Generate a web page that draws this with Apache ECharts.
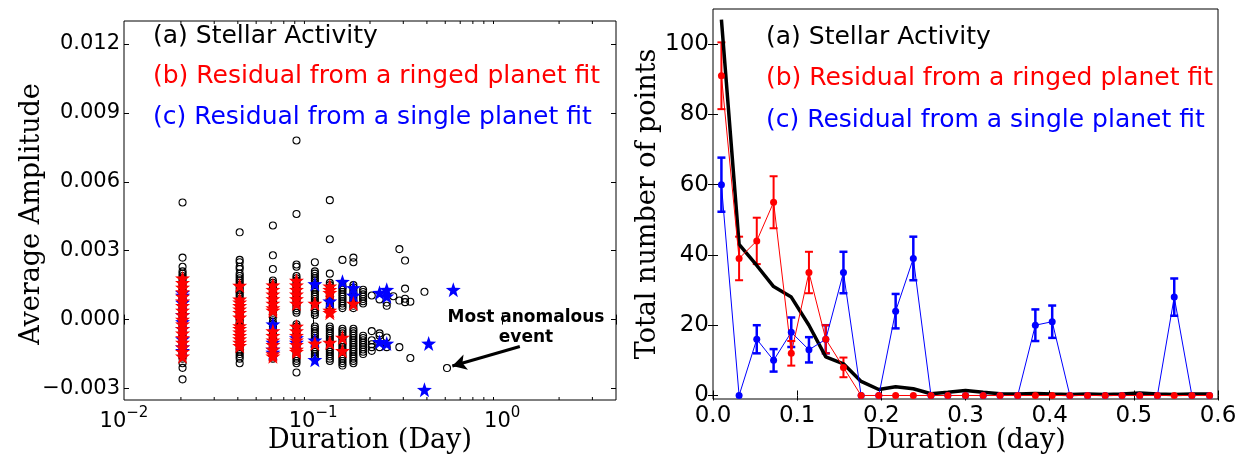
<!DOCTYPE html>
<html>
<head>
<meta charset="utf-8">
<script src="https://cdn.jsdelivr.net/npm/echarts@6/dist/echarts.min.js"></script>
<style>
  html, body { margin: 0; padding: 0; background: #fff; }
  #chart { width: 1250px; height: 462px; }
</style>
</head>
<body>
<div id="chart"></div>
<script>
// ---- left panel: amplitude vs duration (one column per duration) ----
const activityDur = [0.0204, 0.0409, 0.0613, 0.0817, 0.1022, 0.1226, 0.1430, 0.1634, 0.1839,
  0.2043, 0.2247, 0.2452, 0.2656, 0.2860, 0.3065, 0.3269, 0.3882, 0.5108];
const activityAmp = [
  [0.0051, 0.0027, 0.0023, 0.0021, 0.0020, 0.0019, 0.0018, 0.0017, 0.0016, 0.0015, 0.0014, 0.0013, 0.0012, 0.0011, 0.0010, 0.0009, 0.0008, 0.0007, 0.0006, 0.0005, 0.0004, 0.0003, 0.0002, 0.0001, 0.0000, -0.0001, -0.0002, -0.0003, -0.0004, -0.0005, -0.0006, -0.0007, -0.0008, -0.0009, -0.0010, -0.0011, -0.0012, -0.0013, -0.0014, -0.0015, -0.0016, -0.0017, -0.0019, -0.0021, -0.0026],
  [0.0038, 0.0026, 0.0025, 0.0023, 0.0022, 0.0020, 0.0019, 0.0018, 0.0017, 0.0016, 0.0015, 0.0014, 0.0013, 0.0012, 0.0011, 0.0010, 0.0009, 0.0008, 0.0007, 0.0006, 0.0005, 0.0004, 0.0003, 0.0002, 0.0001, 0.0000, -0.0001, -0.0002, -0.0003, -0.0004, -0.0005, -0.0006, -0.0007, -0.0008, -0.0009, -0.0010, -0.0011, -0.0012, -0.0013, -0.0014, -0.0015, -0.0016, -0.0017, -0.0019],
  [0.0041, 0.0028, 0.0022, 0.0017, 0.0016, 0.0015, 0.0014, 0.0013, 0.0012, 0.0011, 0.0010, 0.0009, 0.0008, 0.0007, 0.0006, 0.0005, 0.0004, 0.0003, 0.0002, 0.0001, -0.0001, -0.0002, -0.0003, -0.0004, -0.0005, -0.0006, -0.0007, -0.0008, -0.0009, -0.0010, -0.0011, -0.0012, -0.0013, -0.0014, -0.0015, -0.0016, -0.0017],
  [0.0078, 0.0046, 0.0024, 0.0023, 0.0019, 0.0018, 0.0017, 0.0016, 0.0015, 0.0014, 0.0013, 0.0012, 0.0011, 0.0010, 0.0009, 0.0008, 0.0007, 0.0006, 0.0005, 0.0004, 0.0003, -0.0002, -0.0003, -0.0004, -0.0005, -0.0006, -0.0007, -0.0008, -0.0009, -0.0010, -0.0011, -0.0012, -0.0013, -0.0014, -0.0015, -0.0016, -0.0017, -0.0018, -0.0019, -0.0023],
  [0.0025, 0.0021, 0.0020, 0.0019, 0.0018, 0.0017, 0.0016, 0.0015, 0.0014, 0.0013, 0.0012, 0.0011, 0.0010, 0.0009, 0.0008, 0.0007, 0.0006, 0.0005, 0.0004, 0.0003, 0.0002, -0.0003, -0.0004, -0.0005, -0.0006, -0.0007, -0.0008, -0.0009, -0.0010, -0.0011, -0.0012, -0.0013, -0.0014, -0.0015, -0.0016, -0.0017],
  [0.0052, 0.0035, 0.0020, 0.0016, 0.0015, 0.0014, 0.0013, 0.0012, 0.0011, 0.0010, 0.0009, 0.0008, 0.0007, 0.0006, 0.0005, -0.0003, -0.0004, -0.0005, -0.0006, -0.0007, -0.0008, -0.0009, -0.0010, -0.0011, -0.0012, -0.0013, -0.0014, -0.0015, -0.0016, -0.0017, -0.0018],
  [0.0026, 0.0015, 0.0014, 0.0013, 0.0012, 0.0011, 0.0010, 0.0009, 0.0008, 0.0007, 0.0006, 0.0005, -0.0004, -0.0005, -0.0006, -0.0007, -0.0008, -0.0009, -0.0010, -0.0011, -0.0012, -0.0013, -0.0014, -0.0015, -0.0016, -0.0017, -0.0018, -0.0019, -0.0020],
  [0.0027, 0.0025, 0.0015, 0.0014, 0.0013, 0.0012, 0.0011, 0.0010, 0.0009, 0.0008, 0.0007, 0.0006, 0.0005, -0.0004, -0.0005, -0.0006, -0.0007, -0.0008, -0.0009, -0.0010, -0.0011, -0.0012, -0.0013, -0.0014, -0.0015, -0.0016, -0.0017, -0.0018, -0.0019],
  [0.0013, 0.0012, 0.0011, 0.0010, 0.0009, 0.0008, 0.0007, -0.0007, -0.0008, -0.0009, -0.0010, -0.0011, -0.0012, -0.0013, -0.0014, -0.0015],
  [0.00105, -0.0005, -0.0009, -0.00107, -0.0012, -0.00136],
  [0.00088, -0.0006, -0.0007, -0.0012],
  [0.00074, 0.0006, -0.00078, -0.0012],
  [0.00102],
  [0.00307, 0.00083, -0.0012],
  [0.00257, 0.00135, 0.00091, 0.00076],
  [0.00078, -0.00167],
  [0.00121],
  [-0.00211]
];
const ringDur = [0.0204, 0.0409, 0.0613, 0.0817, 0.1022, 0.1226, 0.1430, 0.1634];
const ringAmp = [
  [0.0018, 0.0016, 0.0014, 0.0012, 0.0010, 0.0008, 0.0006, 0.0004, 0.0002, 0.0000, -0.0002, -0.0004, -0.0006, -0.0008, -0.0010, -0.0012, -0.0014, -0.0016],
  [0.00148, 0.00088, 0.00075, 0.0006, 0.00045, 0.0003, 0.0001, -0.00028, -0.0004, -0.00055, -0.0007, -0.00085, -0.0010, -0.00114],
  [0.0015, 0.0013, 0.0011, 0.0009, 0.0007, 0.0005, 0.0004, -0.0005, -0.0007, -0.0009, -0.0011, -0.0013, -0.0015, -0.0016],
  [0.0017, 0.0015, 0.0013, 0.0011, 0.0009, 0.0007, -0.0003, -0.0005, -0.0007, -0.0009, -0.0011, -0.0013, -0.0014],
  [0.0007, -0.00104],
  [0.00145, 0.0013, 0.00117, 0.0004, 0.0003, -0.0010],
  [-0.00078, -0.00136],
  [0.0007]
];
const singleDur = [0.0204, 0.0613, 0.0817, 0.1022, 0.1226, 0.1430, 0.1634, 0.2247, 0.2452, 0.3882, 0.4086, 0.5516];
const singleAmp = [
  [0.00117, 0.00105, 0.00074, 0.0002, -0.0001, -0.0004, -0.00085, -0.0012, -0.00136],
  [-0.0002, -0.0010, -0.0013, -0.00143],
  [-0.0008, -0.0010],
  [0.00155, -0.0009, -0.00175],
  [0.0008],
  [0.00165],
  [0.00138, 0.00105],
  [0.00117, -0.00097],
  [0.0013, 0.00102, -0.00104],
  [-0.00305],
  [-0.00104],
  [0.0013]
];
const leftYTicks = [-0.003, 0, 0.003, 0.006, 0.009, 0.012];
const logMinorTicks = [0.02, 0.03, 0.04, 0.05, 0.06, 0.07, 0.08, 0.09, 0.2, 0.3, 0.4, 0.5, 0.6, 0.7, 0.8, 0.9, 2, 3];
const arrowFrom = [1.24, -0.00117];
const arrowTo = [0.545, -0.00202];

// ---- right panel: histogram of durations ----
const binCenters = [0.010, 0.031, 0.052, 0.072, 0.093, 0.114, 0.134, 0.155, 0.176, 0.197, 0.217, 0.238,
  0.259, 0.279, 0.300, 0.321, 0.341, 0.362, 0.383, 0.403, 0.424, 0.445, 0.466, 0.486, 0.507, 0.528, 0.548, 0.569, 0.590];
const activityCount = [107, 43, 37, 31, 28, 20, 11, 9, 4, 1.7, 2.5, 1.9, 0.5, 0.9, 1.4, 0.9, 0.5, 0.4, 0.6, 0.4,
  0.3, 0.4, 0.3, 0.4, 0.7, 0.4, 0.3, 0.4, 0.4];
const ringCount = [91, 39, 44, 55, 12, 35, 16, 8, 0, 0, 0, 0, 0, 0, 0, 0, 0, 0, 0, 0, 0, 0, 0, 0, 0, 0, 0, 0, 0];
const ringErr = [9.5, 6.2, 6.6, 7.4, 3.5, 5.9, 4.0, 2.8, 0, 0, 0, 0, 0, 0, 0, 0, 0, 0, 0, 0, 0, 0, 0, 0, 0, 0, 0, 0, 0];
const singleCount = [60, 0, 16, 10, 18, 13, 16, 35, 0, 0, 24, 39, 0, 0, 0, 0, 0, 0, 20, 21, 0, 0, 0, 0, 0, 0, 28, 0, 0];
const singleErr = [7.7, 0, 4.0, 3.2, 4.2, 3.6, 4.0, 5.9, 0, 0, 4.9, 6.2, 0, 0, 0, 0, 0, 0, 4.5, 4.6, 0, 0, 0, 0, 0, 0, 5.3, 0, 0];
const rightYTicks = [0, 20, 40, 60, 80, 100];

const LX = [0.01, 4], LY = [-0.0035, 0.013];
const RX = [0, 0.6], RY = [-1, 110];

const SANS = 'DejaVu Sans';
const STAR = 'path://M0,-10L2.35,-3.24L9.51,-3.09L3.8,1.24L5.88,8.09L0,4L-5.88,8.09L-3.8,1.24L-9.51,-3.09L-2.35,-3.24Z';

function columns(durs, amps) {
  const out = [];
  durs.forEach((d, i) => amps[i].forEach(a => out.push([d, a])));
  return out;
}
function zipXY(xs, ys, es) {
  return xs.map((x, i) => es ? [x, ys[i], es[i]] : [x, ys[i]]);
}
function minus(s) { return s.replace('-', '\u2212'); }

function errorBars(color, width) {
  return function (params, api) {
    const x = api.value(0), y = api.value(1), e = api.value(2);
    if (!e) return null;
    const t = api.coord([x, y + e]), b = api.coord([x, y - e]);
    const c = 4, st = { stroke: color, lineWidth: width };
    return {
      type: 'group',
      children: [
        { type: 'line', shape: { x1: t[0], y1: t[1], x2: b[0], y2: b[1] }, style: st },
        { type: 'line', shape: { x1: t[0] - c, y1: t[1], x2: t[0] + c, y2: t[1] }, style: st },
        { type: 'line', shape: { x1: b[0] - c, y1: b[1], x2: b[0] + c, y2: b[1] }, style: st }
      ]
    };
  };
}

const tick = { inside: true, length: 5, lineStyle: { color: '#000', width: 1 } };
const noLine = { show: false };
const noSplit = { show: false };

const chart = echarts.init(document.getElementById('chart'), null, { renderer: 'canvas' });
chart.setOption({
  animation: false,
  backgroundColor: '#fff',
  grid: [
    { left: 124, top: 21, width: 492, height: 379, show: true, borderColor: '#000', borderWidth: 1, backgroundColor: 'transparent' },
    { left: 713, top: 9, width: 505, height: 390, show: true, borderColor: '#000', borderWidth: 1, backgroundColor: 'transparent' }
  ],
  xAxis: [
    {
      type: 'log', gridIndex: 0, min: LX[0], max: LX[1], axisLine: noLine, splitLine: noSplit, axisTick: tick,
      axisLabel: {
        interval: 0, margin: 6, color: '#000', fontFamily: SANS,
        formatter: v => {
          const e = Math.round(Math.log10(v));
          if (Math.abs(v - Math.pow(10, e)) > 1e-9 * Math.pow(10, e)) return '';
          return '{b|10}{s|' + minus(String(e)) + '}';
        },
        rich: {
          b: { fontSize: 21, fontFamily: SANS, color: '#000', lineHeight: 32 },
          s: { fontSize: 15, fontFamily: SANS, color: '#000', verticalAlign: 'top' }
        }
      }
    },
    { type: 'log', gridIndex: 0, position: 'top', min: LX[0], max: LX[1], axisLine: noLine, splitLine: noSplit, axisTick: tick, axisLabel: { show: false } },
    {
      type: 'value', gridIndex: 1, min: RX[0], max: RX[1], interval: 0.1, axisLine: noLine, splitLine: noSplit, axisTick: tick,
      axisLabel: { margin: 6, color: '#000', fontSize: 23, fontFamily: SANS, formatter: v => v.toFixed(1) }
    },
    { type: 'value', gridIndex: 1, position: 'top', min: RX[0], max: RX[1], interval: 0.1, axisLine: noLine, splitLine: noSplit, axisTick: tick, axisLabel: { show: false } }
  ],
  yAxis: [
    {
      type: 'value', gridIndex: 0, min: LY[0], max: LY[1], axisLine: noLine, splitLine: noSplit,
      axisTick: Object.assign({ customValues: leftYTicks }, tick),
      axisLabel: { customValues: leftYTicks, margin: 4, color: '#000', fontSize: 21, fontFamily: SANS, formatter: v => minus(v.toFixed(3)) }
    },
    {
      type: 'value', gridIndex: 0, position: 'right', min: LY[0], max: LY[1], axisLine: noLine, splitLine: noSplit,
      axisTick: Object.assign({ customValues: leftYTicks }, tick), axisLabel: { show: false, customValues: leftYTicks }
    },
    {
      type: 'value', gridIndex: 1, min: RY[0], max: RY[1], axisLine: noLine, splitLine: noSplit,
      axisTick: Object.assign({ customValues: rightYTicks }, tick),
      axisLabel: { customValues: rightYTicks, margin: 4, color: '#000', fontSize: 23, fontFamily: SANS }
    },
    {
      type: 'value', gridIndex: 1, position: 'right', min: RY[0], max: RY[1], axisLine: noLine, splitLine: noSplit,
      axisTick: Object.assign({ customValues: rightYTicks }, tick), axisLabel: { show: false, customValues: rightYTicks }
    }
  ],
  series: [
    // log-axis minor ticks (2..9 x 10^k), bottom and top
    {
      type: 'custom', xAxisIndex: 0, yAxisIndex: 0, silent: true,
      data: logMinorTicks.map(v => [v, LY[0]]),
      encode: { x: 0, y: 1 },
      renderItem: (params, api) => {
        const v = api.value(0);
        const b = api.coord([v, LY[0]]), t = api.coord([v, LY[1]]);
        const st = { stroke: '#000', lineWidth: 1 };
        return {
          type: 'group', children: [
            { type: 'line', shape: { x1: b[0], y1: b[1], x2: b[0], y2: b[1] - 3 }, style: st },
            { type: 'line', shape: { x1: t[0], y1: t[1], x2: t[0], y2: t[1] + 3 }, style: st }
          ]
        };
      }
    },
    {
      name: 'Stellar Activity', type: 'scatter', xAxisIndex: 0, yAxisIndex: 0,
      data: columns(activityDur, activityAmp),
      symbol: 'circle', symbolSize: 7,
      itemStyle: { color: 'rgba(0,0,0,0)', borderColor: '#000', borderWidth: 1.1, opacity: 1 },
      markLine: {
        silent: true, symbol: ['none', 'arrow'], symbolSize: [12, 14],
        lineStyle: { color: '#000', width: 3, type: 'solid', opacity: 1 },
        label: { show: false },
        data: [[{ coord: arrowFrom }, { coord: arrowTo }]]
      }
    },
    {
      name: 'Single planet residual', type: 'scatter', xAxisIndex: 0, yAxisIndex: 0,
      data: columns(singleDur, singleAmp),
      symbol: STAR, symbolSize: 15,
      itemStyle: { color: '#0000ff', opacity: 1 }
    },
    {
      name: 'Ringed planet residual', type: 'scatter', xAxisIndex: 0, yAxisIndex: 0,
      data: columns(ringDur, ringAmp),
      symbol: STAR, symbolSize: 15,
      itemStyle: { color: '#ff0000', opacity: 1 }
    },
    // right panel
    {
      type: 'line', xAxisIndex: 2, yAxisIndex: 2, data: zipXY(binCenters, activityCount),
      showSymbol: false, lineStyle: { color: '#000', width: 3.5 }, itemStyle: { color: '#000' }
    },
    {
      type: 'line', xAxisIndex: 2, yAxisIndex: 2, data: zipXY(binCenters, singleCount),
      symbol: 'circle', symbolSize: 7, lineStyle: { color: '#0000ff', width: 1 }, itemStyle: { color: '#0000ff' }
    },
    {
      type: 'custom', xAxisIndex: 2, yAxisIndex: 2, data: zipXY(binCenters, singleCount, singleErr),
      encode: { x: 0, y: 1 }, renderItem: errorBars('#0000ff', 2.5)
    },
    {
      type: 'line', xAxisIndex: 2, yAxisIndex: 2, data: zipXY(binCenters, ringCount),
      symbol: 'circle', symbolSize: 7, lineStyle: { color: '#ff0000', width: 1 }, itemStyle: { color: '#ff0000' }
    },
    {
      type: 'custom', xAxisIndex: 2, yAxisIndex: 2, data: zipXY(binCenters, ringCount, ringErr),
      encode: { x: 0, y: 1 }, renderItem: errorBars('#ff0000', 2)
    }
  ],
  graphic: [
    { type: 'text', x: 153, y: 36, style: { text: '(a) Stellar Activity', fill: '#000', font: '25px "DejaVu Sans"', verticalAlign: 'middle' } },
    { type: 'text', x: 153, y: 76, style: { text: '(b) Residual from a ringed planet fit', fill: '#ff0000', font: '25px "DejaVu Sans"', verticalAlign: 'middle' } },
    { type: 'text', x: 153, y: 117, style: { text: '(c) Residual from a single planet fit', fill: '#0000ff', font: '25px "DejaVu Sans"', verticalAlign: 'middle' } },
    { type: 'text', x: 766, y: 37, style: { text: '(a) Stellar Activity', fill: '#000', font: '25px "DejaVu Sans"', verticalAlign: 'middle' } },
    { type: 'text', x: 766, y: 78, style: { text: '(b) Residual from a ringed planet fit', fill: '#ff0000', font: '25px "DejaVu Sans"', verticalAlign: 'middle' } },
    { type: 'text', x: 766, y: 120, style: { text: '(c) Residual from a single planet fit', fill: '#0000ff', font: '25px "DejaVu Sans"', verticalAlign: 'middle' } },
    { type: 'text', x: 526, y: 328, style: { text: 'Most anomalous\nevent', fill: '#000', font: 'bold 17px "DejaVu Sans"', align: 'center', verticalAlign: 'middle', lineHeight: 20 } },
    { type: 'text', x: 370, y: 441, style: { text: 'Duration (Day)', fill: '#000', font: '27px "DejaVu Serif"', align: 'center', verticalAlign: 'middle' } },
    { type: 'text', x: 966, y: 441, style: { text: 'Duration (day)', fill: '#000', font: '27px "DejaVu Serif"', align: 'center', verticalAlign: 'middle' } },
    { type: 'text', x: 32, y: 214, rotation: Math.PI / 2, style: { text: 'Average Amplitude', fill: '#000', font: '27px "DejaVu Serif"', align: 'center', verticalAlign: 'middle' } },
    { type: 'text', x: 648, y: 204, rotation: Math.PI / 2, style: { text: 'Total number of points', fill: '#000', font: '27px "DejaVu Serif"', align: 'center', verticalAlign: 'middle' } }
  ]
});
</script>
</body>
</html>
